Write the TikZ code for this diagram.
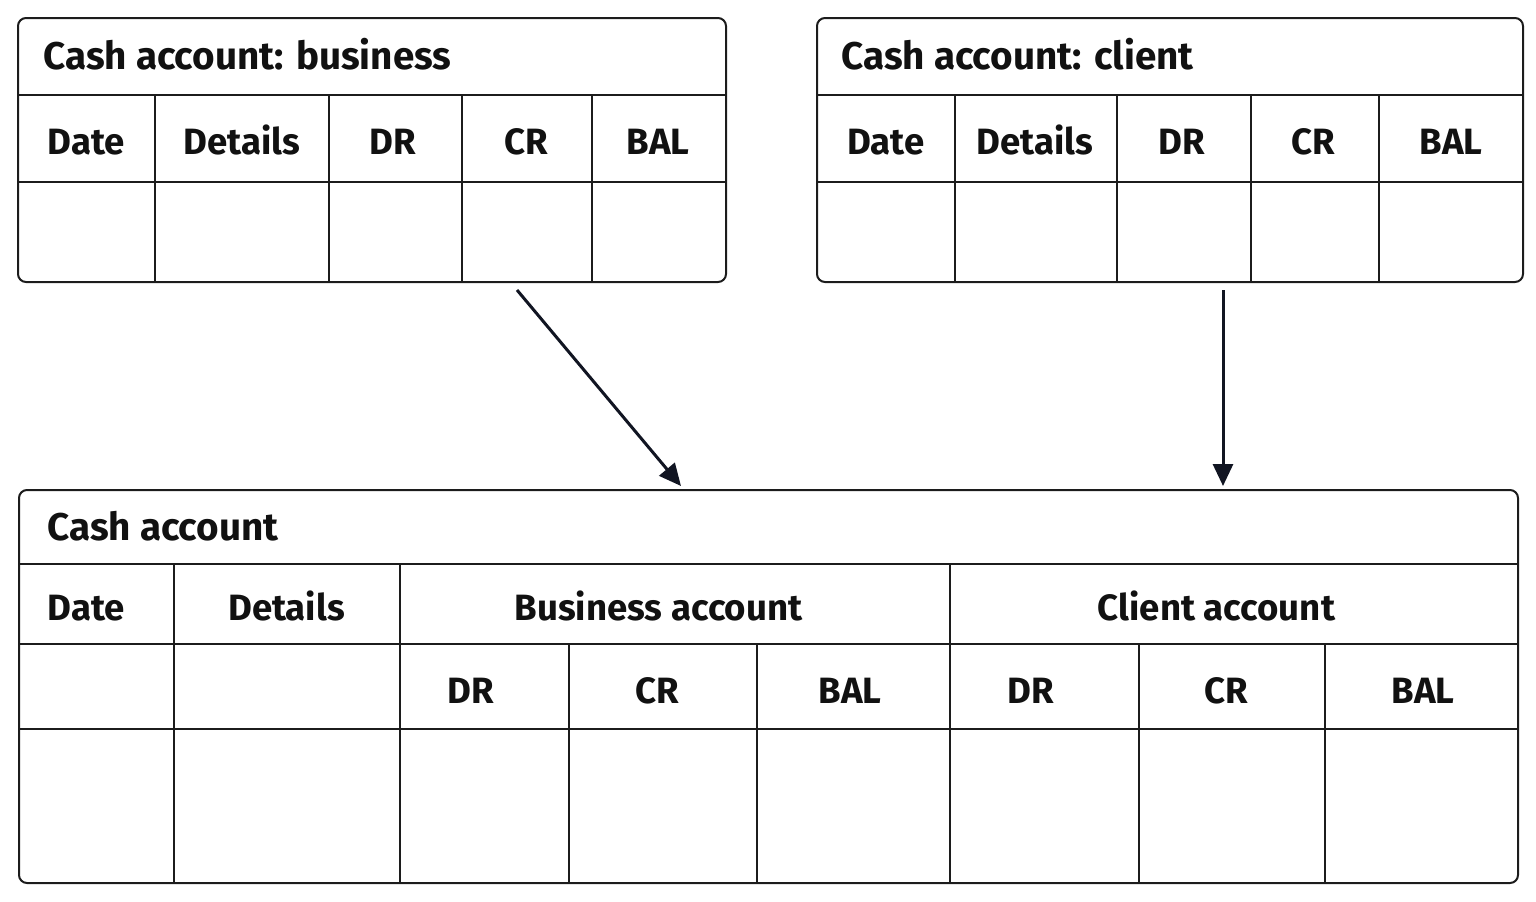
\documentclass[tikz,border=0pt]{standalone}
\usepackage{fontspec}
\setmainfont{Fira Sans}
\usetikzlibrary{arrows.meta}
\definecolor{linec}{HTML}{1C1C1C}
\definecolor{arrc}{HTML}{111522}
\definecolor{txtc}{HTML}{111111}
\begin{document}
\begin{tikzpicture}[x=0.5pt,y=-0.5pt,
  frame/.style={draw=linec, line width=1pt, rounded corners=4pt},
  grid/.style={draw=linec, line width=0.85pt},
  title/.style={anchor=base west, inner sep=0pt, text=txtc, font=\bfseries\fontsize{19.3}{23}\selectfont},
  head/.style={anchor=base, inner sep=0pt, text=txtc, font=\bfseries\fontsize{18.3}{22}\selectfont},
  arr/.style={draw=arrc, line width=1.5pt, -{Triangle[length=11pt,width=10pt]}}]
\useasboundingbox (0,0) rectangle (1536,901);

% ---- Top-left table
\draw[frame] (18,18) rectangle (726,282);
\draw[grid] (18,95) -- (726,95);
\draw[grid] (18,182) -- (726,182);
\foreach \x in {155,329,462,592} \draw[grid] (\x,95) -- (\x,282);
\node[title] (t1) at (43,69) {Cash account: business};
\node[head] (t1date) at (86.5,154) {Date};
\node[head] (t1det) at (242,154) {Details};
\node[head] (t1dr) at (393,154) {DR};
\node[head] (t1cr) at (526,154) {CR};
\node[head] (t1bal) at (658,154) {BAL};

% ---- Top-right table
\draw[frame] (817,18) rectangle (1523,282);
\draw[grid] (817,95) -- (1523,95);
\draw[grid] (817,182) -- (1523,182);
\foreach \x in {955,1117,1251,1379} \draw[grid] (\x,95) -- (\x,282);
\node[title] (t2) at (841,69) {Cash account: client};
\node[head] (t2date) at (886,154) {Date};
\node[head] (t2det) at (1035,154) {Details};
\node[head] (t2dr) at (1182,154) {DR};
\node[head] (t2cr) at (1313,154) {CR};
\node[head] (t2bal) at (1451,154) {BAL};

% ---- Bottom table
\draw[frame] (19,490) rectangle (1518,883);
\draw[grid] (19,564) -- (1518,564);
\draw[grid] (19,644) -- (1518,644);
\draw[grid] (19,729) -- (1518,729);
\foreach \x in {174,400,950} \draw[grid] (\x,564) -- (\x,883);
\foreach \x in {569,757,1139,1325} \draw[grid] (\x,644) -- (\x,883);
\node[title] (t3) at (47,540) {Cash account};
\node[head] (b3date) at (86.5,620) {Date};
\node[head] (b3det) at (286.5,620) {Details};
\node[head] (b3bus) at (658.5,620) {Business account};
\node[head] (b3cli) at (1216.5,620) {Client account};
\node[head] (b3dr1) at (471,703) {DR};
\node[head] (b3cr1) at (657.5,703) {CR};
\node[head] (b3bal1) at (850,703) {BAL};
\node[head] (b3dr2) at (1031,703) {DR};
\node[head] (b3cr2) at (1226.5,703) {CR};
\node[head] (b3bal2) at (1423,703) {BAL};

% ---- Arrows
\coordinate (a1s) at (517,290);
\coordinate (a1e) at (681,486);
\coordinate (a2s) at (1223,290);
\coordinate (a2e) at (1223,486);
\draw[arr] (a1s) -- (a1e);
\draw[arr] (a2s) -- (a2e);
\end{tikzpicture}
\end{document}
